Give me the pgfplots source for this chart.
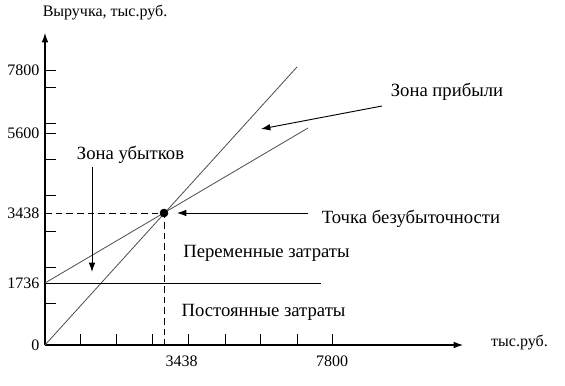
\documentclass[border=0pt,12pt]{standalone}
\usepackage{fontspec}
\setmainfont{Liberation Serif}
\usepackage{pgfplots}
\pgfplotsset{compat=1.18}
\usetikzlibrary{arrows.meta}
\begin{document}
\begin{tikzpicture}
\begin{axis}[
  x=0.75pt, y=0.75pt,
  xmin=0, xmax=418, ymin=0, ymax=312,
  axis lines=left,
  axis line style={line width=0.8pt, -{Latex[length=7pt,width=5pt]}},
  clip=false,
  /pgf/number format/assume math mode=true,
  tick align=inside,
  major tick length=8.25pt, minor tick length=8.25pt,
  tick style={line width=0.6pt, black},
  ytick={212,275}, yticklabels={5600,7800},
  minor ytick={42,78,114,150,186,222,258},
  extra y ticks={0,62,132}, extra y tick labels={0,1736,3438},
  extra y tick style={major tick length=0pt},
  xtick={287}, xticklabels={7800},
  minor xtick={35,71,107,143,180,215,252},
  extra x ticks={119}, extra x tick labels={3438},
  extra x tick style={major tick length=0pt, xticklabel style={anchor=north west, xshift=-3pt}},
  xticklabel style={yshift=-4pt},
]
% revenue line
\addplot[gray!60!black, line width=0.6pt] coordinates {(0,0) (252,278)};
% total cost line
\addplot[gray!60!black, line width=0.6pt] coordinates {(0,62) (263,217)};
% fixed costs
\addplot[black, line width=0.6pt] coordinates {(0,62) (276,62)};
% dashed guides
\addplot[black, line width=0.7pt, dash pattern=on 5pt off 3pt] coordinates {(0,132) (119,132) (119,0)};
% break-even point
\addplot[only marks, mark=*, mark size=3pt, black] coordinates {(119,132)};
% arrows
\addplot[black, line width=0.7pt, -{Latex[length=7pt,width=5pt]}] coordinates {(263,132) (132,132)};
\addplot[black, line width=0.7pt, -{Latex[length=7pt,width=5pt]}] coordinates {(337,239) (216,216)};
\addplot[black, line width=0.7pt, -{Latex[length=7pt,width=5pt]}] coordinates {(47,178) (47,73)};
% texts
\node at (axis cs:60,332) {Выручка, тыс.руб.};
\begin{scope}[every node/.style={font=\fontsize{14}{16}\selectfont}]
\node at (axis cs:402,253) {Зона прибыли};
\node at (axis cs:85.5,190) {Зона убытков};
\node at (axis cs:366,126) {Точка безубыточности};
\node at (axis cs:221.5,92) {Переменные затраты};
\node at (axis cs:218.5,33) {Постоянные затраты};
\end{scope}
\node at (axis cs:474.5,2) {тыс.руб.};
\coordinate (bl) at (axis cs:-45,-41);
\coordinate (tr) at (axis cs:520,345);
\end{axis}
\path (bl) rectangle (tr);
\end{tikzpicture}
\end{document}
